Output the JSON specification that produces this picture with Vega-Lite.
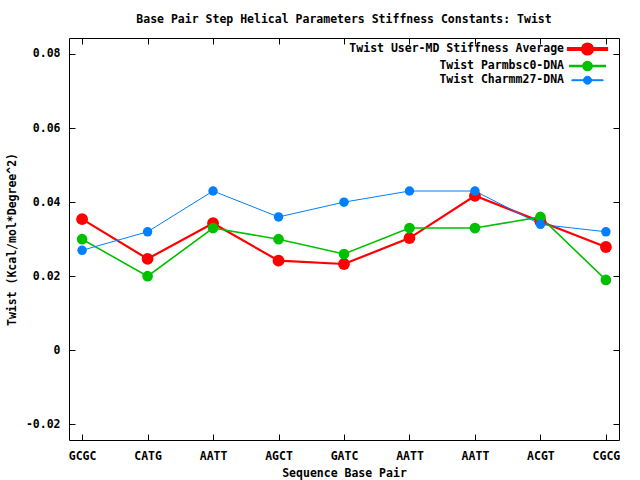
{
  "$schema": "https://vega.github.io/schema/vega-lite/v6.json",
  "width": 550,
  "height": 402,
  "autosize": {"type": "none"},
  "padding": {"left": 69, "top": 38, "right": 21, "bottom": 40},
  "background": "white",
  "title": {
    "text": "Base Pair Step Helical Parameters Stiffness Constants: Twist",
    "font": "DejaVu Sans Mono",
    "fontSize": 11.5,
    "fontWeight": "bold",
    "color": "black",
    "anchor": "middle",
    "offset": 12
  },
  "config": {
    "font": "DejaVu Sans Mono",
    "view": {"stroke": "black", "strokeWidth": 1},
    "axis": {
      "labelFont": "DejaVu Sans Mono",
      "labelFontSize": 11.5,
      "labelFontWeight": "bold",
      "labelColor": "black",
      "titleFont": "DejaVu Sans Mono",
      "titleFontSize": 11.5,
      "titleFontWeight": "bold",
      "titleColor": "black",
      "tickColor": "black",
      "tickSize": -6,
      "domain": false,
      "grid": false
    }
  },
  "data": {
    "values": [
      {"i": 1, "pair": "GCGC", "series": "Twist User-MD Stiffness Average", "twist": 0.0354},
      {"i": 2, "pair": "CATG", "series": "Twist User-MD Stiffness Average", "twist": 0.0247},
      {"i": 3, "pair": "AATT", "series": "Twist User-MD Stiffness Average", "twist": 0.0343},
      {"i": 4, "pair": "AGCT", "series": "Twist User-MD Stiffness Average", "twist": 0.0242},
      {"i": 5, "pair": "GATC", "series": "Twist User-MD Stiffness Average", "twist": 0.0233},
      {"i": 6, "pair": "AATT", "series": "Twist User-MD Stiffness Average", "twist": 0.0303},
      {"i": 7, "pair": "AATT", "series": "Twist User-MD Stiffness Average", "twist": 0.0417},
      {"i": 8, "pair": "ACGT", "series": "Twist User-MD Stiffness Average", "twist": 0.0348},
      {"i": 9, "pair": "CGCG", "series": "Twist User-MD Stiffness Average", "twist": 0.0279},
      {"i": 1, "pair": "GCGC", "series": "Twist Parmbsc0-DNA", "twist": 0.030},
      {"i": 2, "pair": "CATG", "series": "Twist Parmbsc0-DNA", "twist": 0.020},
      {"i": 3, "pair": "AATT", "series": "Twist Parmbsc0-DNA", "twist": 0.033},
      {"i": 4, "pair": "AGCT", "series": "Twist Parmbsc0-DNA", "twist": 0.030},
      {"i": 5, "pair": "GATC", "series": "Twist Parmbsc0-DNA", "twist": 0.026},
      {"i": 6, "pair": "AATT", "series": "Twist Parmbsc0-DNA", "twist": 0.033},
      {"i": 7, "pair": "AATT", "series": "Twist Parmbsc0-DNA", "twist": 0.033},
      {"i": 8, "pair": "ACGT", "series": "Twist Parmbsc0-DNA", "twist": 0.036},
      {"i": 9, "pair": "CGCG", "series": "Twist Parmbsc0-DNA", "twist": 0.019},
      {"i": 1, "pair": "GCGC", "series": "Twist Charmm27-DNA", "twist": 0.027},
      {"i": 2, "pair": "CATG", "series": "Twist Charmm27-DNA", "twist": 0.032},
      {"i": 3, "pair": "AATT", "series": "Twist Charmm27-DNA", "twist": 0.043},
      {"i": 4, "pair": "AGCT", "series": "Twist Charmm27-DNA", "twist": 0.036},
      {"i": 5, "pair": "GATC", "series": "Twist Charmm27-DNA", "twist": 0.040},
      {"i": 6, "pair": "AATT", "series": "Twist Charmm27-DNA", "twist": 0.043},
      {"i": 7, "pair": "AATT", "series": "Twist Charmm27-DNA", "twist": 0.043},
      {"i": 8, "pair": "ACGT", "series": "Twist Charmm27-DNA", "twist": 0.034},
      {"i": 9, "pair": "CGCG", "series": "Twist Charmm27-DNA", "twist": 0.032}
    ]
  },
  "layer": [
    {
      "encoding": {
        "x": {
          "field": "i",
          "type": "quantitative",
          "scale": {"domain": [0.8, 9.2], "nice": false, "zero": false},
          "axis": {
            "orient": "bottom",
            "title": "Sequence Base Pair",
            "values": [1, 2, 3, 4, 5, 6, 7, 8, 9],
            "labelExpr": "['GCGC','CATG','AATT','AGCT','GATC','AATT','AATT','ACGT','CGCG'][datum.value - 1]",
            "labelPadding": 16,
            "titlePadding": 6
          }
        },
        "y": {
          "field": "twist",
          "type": "quantitative",
          "scale": {"domain": [-0.0242, 0.0843], "nice": false, "zero": false},
          "axis": {
            "orient": "left",
            "title": "Twist (Kcal/mol*Degree^2)",
            "values": [-0.02, 0, 0.02, 0.04, 0.06, 0.08],
            "labelExpr": "(datum.value < 0 ? '-' : '') + format(abs(datum.value), '.2~f')",
            "labelPadding": 15,
            "titlePadding": 8
          }
        }
      },
      "layer": [
        {
          "mark": {"type": "line"},
          "encoding": {
            "color": {
              "field": "series",
              "type": "nominal",
              "scale": {
                "domain": ["Twist User-MD Stiffness Average", "Twist Parmbsc0-DNA", "Twist Charmm27-DNA"],
                "range": ["#ff0000", "#00c000", "#0080ff"]
              },
              "legend": {
                "orient": "none",
                "legendX": 511,
                "legendY": 3.5,
                "title": null,
                "padding": 0,
                "symbolSize": 144,
                "symbolStrokeWidth": 0,
                "labelAlign": "right",
                "labelOffset": -31,
                "labelFont": "DejaVu Sans Mono",
                "labelFontSize": 11.5,
                "labelFontWeight": "bold",
                "labelColor": "black",
                "rowPadding": -5,
                "labelLimit": 400,
                "encode": {
                  "symbols": {
                    "update": {
                      "shape": {"signal": "datum.value === 'Twist User-MD Stiffness Average' ? 'M-3.3,-0.17H3.3V0.17H-3.3Z M-0.92,0A0.92,0.92,0,1,1,0.92,0A0.92,0.92,0,1,1,-0.92,0Z' : 'M-3.3,-0.09H3.3V0.09H-3.3Z M-0.85,0A0.85,0.85,0,1,1,0.85,0A0.85,0.85,0,1,1,-0.85,0Z'"},
                      "fill": {"scale": "color", "field": "value"},
                      "stroke": {"value": "transparent"},
                      "opacity": {"value": 1}
                    }
                  }
                }
              }
            },
            "strokeWidth": {
              "field": "series",
              "type": "nominal",
              "scale": {
                "domain": ["Twist User-MD Stiffness Average", "Twist Parmbsc0-DNA", "Twist Charmm27-DNA"],
                "range": [2.2, 1, 1]
              },
              "legend": null
            }
          }
        },
        {
          "mark": {"type": "point", "filled": true, "opacity": 1},
          "encoding": {
            "color": {"field": "series", "type": "nominal"},
            "size": {
              "field": "series",
              "type": "nominal",
              "scale": {
                "domain": ["Twist User-MD Stiffness Average", "Twist Parmbsc0-DNA", "Twist Charmm27-DNA"],
                "range": [140, 90, 90]
              },
              "legend": null
            }
          }
        }
      ]
    },
    {
      "mark": {"type": "point", "opacity": 0},
      "encoding": {
        "x": {
          "field": "i",
          "type": "quantitative",
          "scale": {"domain": [0.8, 9.2], "nice": false, "zero": false},
          "axis": {"orient": "top", "title": null, "labels": false, "values": [1, 2, 3, 4, 5, 6, 7, 8, 9]}
        },
        "y": {
          "field": "twist",
          "type": "quantitative",
          "scale": {"domain": [-0.0242, 0.0843], "nice": false, "zero": false},
          "axis": {"orient": "right", "title": null, "labels": false, "values": [-0.02, 0, 0.02, 0.04, 0.06, 0.08]}
        }
      }
    }
  ],
  "resolve": {"axis": {"x": "independent", "y": "independent"}}
}
